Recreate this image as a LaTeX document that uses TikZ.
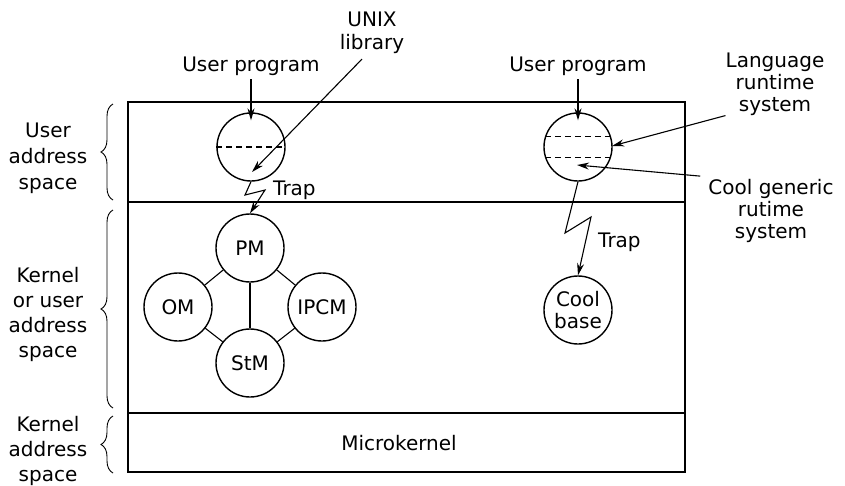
\documentclass[tikz,border=0pt]{standalone}
\usepackage{fontspec}
\setmainfont{DejaVu Sans}
\usetikzlibrary{arrows.meta,decorations.pathreplacing,calc}
\begin{document}
\begin{tikzpicture}[x=1pt,y=-1pt,
  lbl/.style={font=\fontsize{20}{25}\selectfont, align=center, inner sep=0pt},
  mod/.style={circle, draw, line width=1.4pt, minimum size=68pt, inner sep=0pt, font=\fontsize{20}{22}\selectfont, align=center},
  conn/.style={line width=1.1pt},
  arr/.style={line width=1.1pt, -{Stealth[length=12pt,width=7pt]}},
  br/.style={decorate, decoration={brace, amplitude=12pt}, line width=0.9pt},
  dsh/.style={dash pattern=on 6pt off 4pt, line width=1.1pt},
  frame/.style={line width=1.6pt}
]
\useasboundingbox[fill=white] (0,0) rectangle (845,485);

% frame
\draw[frame] (128,102) rectangle (685,472);
\draw[frame] (128,202) -- (685,202);
\draw[frame] (128,413) -- (685,413);

% modules
\node[mod] (up1) at (251,147) {};
\node[mod] (up2) at (578,147) {};
\node[mod] (pm) at (250,248) {PM};
\node[mod] (om) at (178,307) {OM};
\node[mod] (ipcm) at (322,307) {IPCM};
\node[mod] (stm) at (250,363) {StM};
\node[mod] (cb) at (578,310) {Cool\\base};

% dashed partitions
\draw[dsh] (up1.west) -- (up1.east);
\draw[dsh] (up2.163) -- (up2.17);
\draw[dsh] (up2.197) -- (up2.343);

% module links
\draw[conn] (pm) -- (om);
\draw[conn] (pm) -- (ipcm);
\draw[conn] (pm) -- (stm);
\draw[conn] (om) -- (stm);
\draw[conn] (ipcm) -- (stm);

% user program labels
\node[lbl, anchor=base] (upl1) at (251,71) {User program};
\node[lbl, anchor=base] (upl2) at (578,71) {User program};
\draw[arr, shorten <=4pt] (upl1.south) -- ($(up1.north)+(0,8)$);
\draw[arr, shorten <=4pt] (upl2.south) -- ($(up2.north)+(0,8)$);

% UNIX library
\node[lbl, font=\fontsize{20}{23}\selectfont] (unix) at (372,33) {UNIX\\library};
\coordinate (unixtip) at (252,172);
\draw[arr] ($(unix.south)+(-10,5)$) -- (unixtip);

% language runtime
\node[lbl, font=\fontsize{20}{22}\selectfont] (lang) at (775,84) {Language\\runtime\\system};
\coordinate (langtip) at (612,146);
\draw[arr] (lang.south west) -- (langtip);

% cool generic runtime
\node[lbl, font=\fontsize{20}{22}\selectfont] (cool) at (771,211) {Cool generic\\rutime\\system};
\coordinate (cooltip) at (577,165);
\draw[arr] ($(cool.north west)+(-8,-3)$) -- (cooltip);

% traps
\coordinate (z1) at (245,195);
\coordinate (z2) at (265,190);
\draw[arr] (up1.south) -- (z1) -- (z2) -- (pm.north);
\node[lbl, anchor=base west] (trap1) at (273,195) {Trap};

\coordinate (z3) at (565,233);
\coordinate (z4) at (591,217);
\draw[arr] (up2.south) -- (z3) -- (z4) -- (cb.north);
\node[lbl, anchor=base west] (trap2) at (598,247) {Trap};

% microkernel
\node[lbl] (mk) at (399,443) {Microkernel};

% braces and address space labels
\draw[br] (113,200) -- (113,104);
\draw[br] (113,408) -- (113,210);
\draw[br] (113,473) -- (113,416);
\node[lbl, font=\fontsize{20}{26}\selectfont] (ua) at (48,158) {User\\address\\space};
\node[lbl] (kua) at (48,314) {Kernel\\or user\\address\\space};
\node[lbl] (ka) at (48,451) {Kernel\\address\\space};
\end{tikzpicture}
\end{document}
